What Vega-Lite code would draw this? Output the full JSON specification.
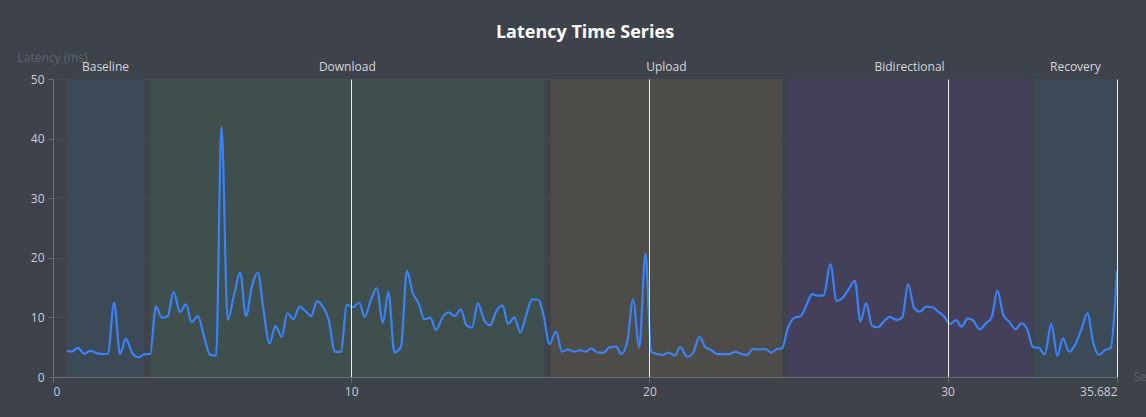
{
  "$schema": "https://vega.github.io/schema/vega-lite/v6.json",
  "width": 1064,
  "height": 298,
  "autosize": {"type": "none"},
  "padding": {"left": 53, "top": 79, "right": 29, "bottom": 40},
  "background": "#3e424a",
  "title": {
    "text": "Latency Time Series",
    "color": "#ffffff",
    "font": "Open Sans",
    "fontSize": 18,
    "fontWeight": "bold",
    "anchor": "middle",
    "frame": "group",
    "offset": 9
  },
  "config": {
    "view": {"stroke": null},
    "font": "Open Sans",
    "axis": {
      "domainColor": "#6b6e75",
      "tickColor": "#6b6e75",
      "labelColor": "#c9ccd1",
      "labelFontSize": 12,
      "labelFont": "Open Sans",
      "titleFont": "Open Sans"
    }
  },
  "datasets": {
    "phases": [
      {"phase": "Baseline", "start": 0.47, "end": 3.05},
      {"phase": "Download", "start": 3.26, "end": 16.48},
      {"phase": "Upload", "start": 16.68, "end": 24.46},
      {"phase": "Bidirectional", "start": 24.63, "end": 32.82},
      {"phase": "Recovery", "start": 32.89, "end": 35.682}
    ],
    "samples": [
      {"t": 0.46, "ms": 4.4}, {"t": 0.63, "ms": 4.25}, {"t": 0.83, "ms": 4.9}, {"t": 1.05, "ms": 3.9},
      {"t": 1.24, "ms": 4.4}, {"t": 1.47, "ms": 4.0}, {"t": 1.63, "ms": 3.85}, {"t": 1.84, "ms": 3.9},
      {"t": 2.05, "ms": 12.5}, {"t": 2.25, "ms": 3.85}, {"t": 2.44, "ms": 6.4}, {"t": 2.66, "ms": 4.0},
      {"t": 2.86, "ms": 3.3}, {"t": 3.06, "ms": 3.8}, {"t": 3.26, "ms": 3.85}, {"t": 3.45, "ms": 11.8},
      {"t": 3.65, "ms": 9.95}, {"t": 3.85, "ms": 10.2}, {"t": 4.04, "ms": 14.3}, {"t": 4.26, "ms": 10.9},
      {"t": 4.46, "ms": 12.2}, {"t": 4.65, "ms": 9.2}, {"t": 4.86, "ms": 10.2}, {"t": 5.07, "ms": 6.7},
      {"t": 5.27, "ms": 3.7}, {"t": 5.47, "ms": 3.6}, {"t": 5.65, "ms": 42.0}, {"t": 5.86, "ms": 9.6},
      {"t": 6.06, "ms": 13.5}, {"t": 6.28, "ms": 17.5}, {"t": 6.47, "ms": 10.2}, {"t": 6.67, "ms": 15.2},
      {"t": 6.87, "ms": 17.5}, {"t": 7.06, "ms": 11.2}, {"t": 7.26, "ms": 5.65}, {"t": 7.46, "ms": 8.55},
      {"t": 7.67, "ms": 6.75}, {"t": 7.86, "ms": 10.7}, {"t": 8.06, "ms": 9.7}, {"t": 8.27, "ms": 11.8},
      {"t": 8.46, "ms": 11.1}, {"t": 8.66, "ms": 10.2}, {"t": 8.85, "ms": 12.7}, {"t": 9.05, "ms": 11.8},
      {"t": 9.24, "ms": 9.7}, {"t": 9.46, "ms": 4.2}, {"t": 9.65, "ms": 4.2}, {"t": 9.86, "ms": 12.1},
      {"t": 10.06, "ms": 11.7}, {"t": 10.27, "ms": 12.5}, {"t": 10.45, "ms": 10.1}, {"t": 10.66, "ms": 12.9},
      {"t": 10.86, "ms": 14.9}, {"t": 11.06, "ms": 9.1}, {"t": 11.25, "ms": 14.3}, {"t": 11.45, "ms": 4.1},
      {"t": 11.67, "ms": 5.1}, {"t": 11.87, "ms": 17.8}, {"t": 12.07, "ms": 14.0}, {"t": 12.26, "ms": 12.4},
      {"t": 12.45, "ms": 9.7}, {"t": 12.65, "ms": 9.95}, {"t": 12.85, "ms": 7.9}, {"t": 13.06, "ms": 10.0},
      {"t": 13.27, "ms": 10.85}, {"t": 13.47, "ms": 10.2}, {"t": 13.68, "ms": 11.35}, {"t": 13.86, "ms": 8.7},
      {"t": 14.05, "ms": 8.3}, {"t": 14.25, "ms": 12.35}, {"t": 14.46, "ms": 9.55}, {"t": 14.66, "ms": 8.7},
      {"t": 14.87, "ms": 11.1}, {"t": 15.08, "ms": 12.0}, {"t": 15.26, "ms": 8.9}, {"t": 15.47, "ms": 10.0},
      {"t": 15.67, "ms": 7.5}, {"t": 15.87, "ms": 10.4}, {"t": 16.06, "ms": 13.0}, {"t": 16.27, "ms": 13.0},
      {"t": 16.45, "ms": 10.4}, {"t": 16.65, "ms": 5.5}, {"t": 16.87, "ms": 7.6}, {"t": 17.07, "ms": 4.25},
      {"t": 17.27, "ms": 4.6}, {"t": 17.48, "ms": 4.25}, {"t": 17.66, "ms": 4.5}, {"t": 17.85, "ms": 4.25},
      {"t": 18.05, "ms": 4.8}, {"t": 18.27, "ms": 4.1}, {"t": 18.47, "ms": 4.1}, {"t": 18.67, "ms": 5.0},
      {"t": 18.88, "ms": 5.1}, {"t": 19.06, "ms": 3.85}, {"t": 19.27, "ms": 6.2}, {"t": 19.45, "ms": 13.0},
      {"t": 19.66, "ms": 5.0}, {"t": 19.87, "ms": 20.7}, {"t": 20.06, "ms": 4.25}, {"t": 20.26, "ms": 3.85},
      {"t": 20.46, "ms": 3.7}, {"t": 20.65, "ms": 4.1}, {"t": 20.85, "ms": 3.6}, {"t": 21.04, "ms": 5.0},
      {"t": 21.26, "ms": 3.4}, {"t": 21.47, "ms": 4.1}, {"t": 21.68, "ms": 6.75}, {"t": 21.88, "ms": 5.0},
      {"t": 22.08, "ms": 4.5}, {"t": 22.27, "ms": 3.85}, {"t": 22.47, "ms": 3.85}, {"t": 22.66, "ms": 3.85},
      {"t": 22.89, "ms": 4.2}, {"t": 23.09, "ms": 3.85}, {"t": 23.28, "ms": 3.7}, {"t": 23.48, "ms": 4.7},
      {"t": 23.69, "ms": 4.6}, {"t": 23.89, "ms": 4.7}, {"t": 24.08, "ms": 4.1}, {"t": 24.28, "ms": 4.7},
      {"t": 24.45, "ms": 4.8}, {"t": 24.64, "ms": 8.15}, {"t": 24.88, "ms": 10.0}, {"t": 25.07, "ms": 10.2},
      {"t": 25.27, "ms": 12.1}, {"t": 25.46, "ms": 13.9}, {"t": 25.65, "ms": 13.65}, {"t": 25.85, "ms": 13.75},
      {"t": 26.07, "ms": 18.95}, {"t": 26.28, "ms": 12.75}, {"t": 26.47, "ms": 13.2}, {"t": 26.67, "ms": 14.6},
      {"t": 26.89, "ms": 16.15}, {"t": 27.08, "ms": 9.3}, {"t": 27.27, "ms": 12.35}, {"t": 27.47, "ms": 8.6},
      {"t": 27.66, "ms": 8.35}, {"t": 27.86, "ms": 9.3}, {"t": 28.06, "ms": 10.1}, {"t": 28.29, "ms": 9.55},
      {"t": 28.48, "ms": 10.0}, {"t": 28.68, "ms": 15.6}, {"t": 28.87, "ms": 11.7}, {"t": 29.07, "ms": 10.95},
      {"t": 29.28, "ms": 11.8}, {"t": 29.49, "ms": 11.7}, {"t": 29.69, "ms": 10.95}, {"t": 29.88, "ms": 10.2},
      {"t": 30.08, "ms": 8.9}, {"t": 30.29, "ms": 9.55}, {"t": 30.47, "ms": 8.45}, {"t": 30.68, "ms": 9.85},
      {"t": 30.86, "ms": 9.45}, {"t": 31.07, "ms": 8.0}, {"t": 31.28, "ms": 9.0}, {"t": 31.48, "ms": 10.0},
      {"t": 31.67, "ms": 14.5}, {"t": 31.87, "ms": 10.4}, {"t": 32.06, "ms": 9.3}, {"t": 32.28, "ms": 8.0},
      {"t": 32.48, "ms": 9.0}, {"t": 32.67, "ms": 8.0}, {"t": 32.87, "ms": 5.0}, {"t": 33.06, "ms": 4.9},
      {"t": 33.26, "ms": 3.8}, {"t": 33.48, "ms": 8.9}, {"t": 33.68, "ms": 3.6}, {"t": 33.87, "ms": 6.5},
      {"t": 34.07, "ms": 4.25}, {"t": 34.27, "ms": 5.35}, {"t": 34.49, "ms": 8.0}, {"t": 34.69, "ms": 10.7},
      {"t": 34.89, "ms": 5.65}, {"t": 35.08, "ms": 3.7}, {"t": 35.28, "ms": 4.5}, {"t": 35.47, "ms": 4.9},
      {"t": 35.68, "ms": 17.85}
    ]
  },
  "layer": [
    {
      "data": {"name": "phases"},
      "mark": {"type": "rect"},
      "encoding": {
        "x": {
          "field": "start",
          "type": "quantitative",
          "scale": {"domain": [0, 35.682], "nice": false, "zero": false},
          "axis": {
            "values": [0, 10, 20, 30, 35.682],
            "labelExpr": "'' + datum.value",
            "tickSize": 5,
            "labelPadding": 4,
            "grid": true,
            "gridColor": "#ffffff",
            "gridOpacity": {"condition": {"test": "datum.value === 0", "value": 0}, "value": 0.9},
            "zindex": 1,
            "title": "Seconds",
            "titleColor": "#5e626a",
            "titleFontSize": 12,
            "titleFontWeight": "normal",
            "titleAngle": 0,
            "titleAlign": "left",
            "titleBaseline": "middle",
            "titleX": 1080,
            "titleY": -1
          }
        },
        "x2": {"field": "end"},
        "color": {
          "field": "phase",
          "type": "nominal",
          "scale": {
            "domain": ["Baseline", "Download", "Upload", "Bidirectional", "Recovery"],
            "range": ["#3c4a57", "#3e4f4e", "#4d4c48", "#45405a", "#3c4a57"]
          },
          "legend": null
        }
      }
    },
    {
      "data": {"name": "phases"},
      "transform": [{"calculate": "(datum.start + datum.end) / 2", "as": "mid"}],
      "mark": {"type": "text", "color": "#d4d6da", "fontSize": 12, "font": "Open Sans", "baseline": "middle", "dy": -12},
      "encoding": {
        "x": {"field": "mid", "type": "quantitative"},
        "y": {"datum": 50},
        "text": {"field": "phase"}
      }
    },
    {
      "data": {"name": "samples"},
      "mark": {"type": "line", "color": "#3b82f6", "strokeWidth": 2.2, "interpolate": "monotone"},
      "encoding": {
        "x": {"field": "t", "type": "quantitative"},
        "y": {
          "field": "ms",
          "type": "quantitative",
          "scale": {"domain": [0, 50], "nice": false},
          "axis": {
            "values": [0, 10, 20, 30, 40, 50],
            "tickSize": 5,
            "labelPadding": 4,
            "grid": true,
            "gridColor": "#ffffff",
            "gridOpacity": 0.05,
            "title": "Latency (ms)",
            "titleColor": "#5e626a",
            "titleFontSize": 12,
            "titleFontWeight": "normal",
            "titleAngle": 0,
            "titleAlign": "left",
            "titleBaseline": "middle",
            "titleX": -36,
            "titleY": -22
          }
        }
      }
    }
  ]
}
